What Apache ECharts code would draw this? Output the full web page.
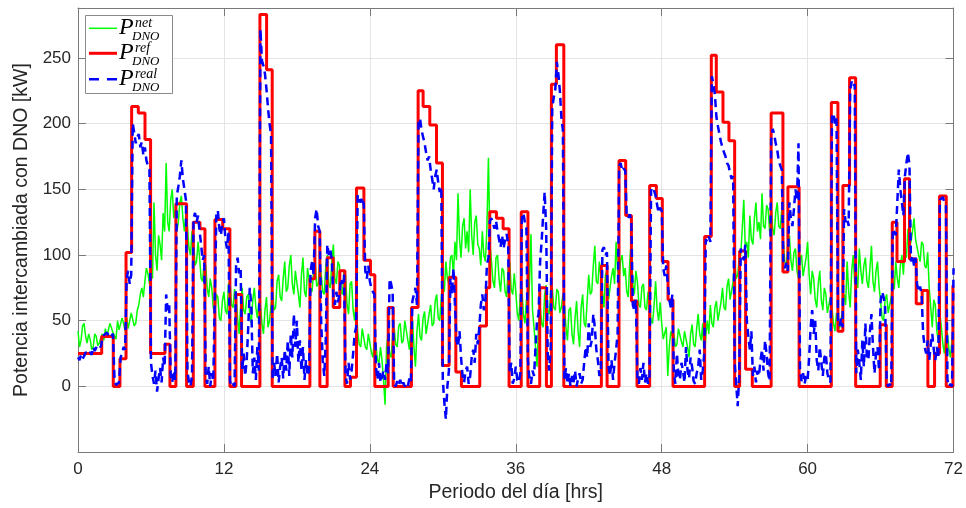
<!DOCTYPE html>
<html>
<head>
<meta charset="utf-8">
<script src="https://cdn.jsdelivr.net/npm/echarts@6/dist/echarts.min.js"></script>
<style>
html,body{margin:0;padding:0;background:#fff;}
#chart{width:966px;height:508px;}
</style>
</head>
<body>
<div id="chart"></div>
<script>
// ---- Data ----
var sampleStep = 0.125; // hours between samples of P_net and P_real
var xTicks = [0, 12, 24, 36, 48, 60, 72];
var yTicks = [0, 50, 100, 150, 200, 250];

// P_DNO^net (green), one value every 0.125 h from 0 to 72 h (two hours per line)
var pNet = [
42,30,35,46,48,38,33,40, 36,28,30,40,38,31,33,37,
40,35,44,38,37,48,47,41, 42,36,50,43,44,52,48,42,
52,44,45,56,55,46,48,58, 62,70,75,68,80,90,86,78,
95,82,140,100,88,115,108,96, 132,118,170,125,118,142,150,128,
135,118,125,140,145,128,118,132, 122,105,100,118,112,92,95,110,
98,82,80,95,92,75,68,82, 75,60,55,70,68,52,50,65,
72,58,55,78,80,62,60,74, 68,52,40,62,75,58,55,68,
70,55,48,66,75,60,52,64, 62,48,40,58,68,45,50,62,
72,58,60,80,85,68,65,82, 95,72,75,92,100,78,70,88,
88,70,60,85,98,72,68,90, 90,74,72,88,95,76,78,92,
85,72,70,92,100,78,75,95, 108,82,78,95,92,72,70,88,
85,62,55,78,80,58,50,66, 42,32,30,44,45,30,28,40,
40,26,22,35,32,20,18,30, 20,5,-14,30,40,25,22,38,
45,32,30,46,48,33,35,50, 50,35,28,48,52,30,15,42,
55,38,35,52,57,40,40,55, 62,46,48,65,70,52,50,68,
80,72,95,82,78,98,100,85, 110,96,147,112,98,122,128,105,
118,102,150,115,100,125,130,108, 105,92,118,100,95,120,174,110,
95,80,75,98,100,82,72,90, 88,72,68,90,95,74,70,86,
72,56,50,70,75,55,48,66, 60,78,116,58,45,30,15,48,
62,48,45,70,77,58,55,72, 75,60,58,74,72,56,60,70,
62,45,35,58,60,40,32,52, 65,42,30,60,70,48,45,66,
85,70,72,92,107,80,78,95, 95,72,60,85,88,66,65,84,
90,78,110,88,82,96,100,84, 90,72,68,95,112,78,70,88,
80,62,60,76,78,60,58,72, 65,50,48,62,80,58,50,64,
48,36,35,45,8,30,42,38, 40,30,32,44,45,34,30,42,
42,30,22,40,47,32,30,44, 55,40,35,48,17,38,50,40,
62,48,45,60,65,50,50,64, 75,60,58,76,82,66,65,80,
95,82,85,98,100,120,142,105, 110,98,130,112,108,128,140,118,
125,112,147,122,120,138,135,118, 138,120,115,132,140,122,120,135,
110,95,90,108,115,96,88,102, 105,88,82,98,100,84,85,98,
110,85,70,88,82,66,60,78, 88,66,58,75,70,56,55,68,
60,48,42,56,55,44,45,58, 70,62,95,72,60,88,100,78,
85,75,105,88,78,92,98,80, 75,90,107,80,72,88,95,76,
65,52,50,66,70,56,55,68, 80,74,95,82,75,92,100,85,
105,98,120,106,110,118,128,112, 112,100,95,110,108,92,90,102,
75,60,45,66,62,42,35,55, 45,32,25,42,40,28,22,36,
40
];

// P_DNO^real (blue dashed), one value every 0.125 h from 0 to 72 h (two hours per line)
var pReal = [
22,20,24,21,23,26,27,24, 26,24,30,27,28,32,33,30,
36,39,38,41,40,37,38,40, 6,1,0,3,22,25,30,28,
82,88,78,85,200,193,185,190, 192,182,186,176,182,172,168,165,
18,8,2,12,-4,6,14,3, 22,15,70,58,62,8,3,12,
5,145,152,160,172,158,150,142, 12,3,0,8,128,132,125,130,
118,108,96,100,8,2,15,0, 10,4,3,130,134,120,115,125,
128,112,105,118,4,0,2,0, 92,98,86,90,12,25,8,20,
45,75,62,10,22,5,30,12, 272,248,244,238,226,212,200,192,
5,18,8,25,3,15,22,6, 28,12,35,8,40,22,55,30,
50,18,35,12,30,5,20,8, 12,88,95,85,128,135,122,118,
48,20,8,35,108,100,104,96, 68,62,72,64,70,82,78,85,
8,2,18,5,12,25,40,45, 146,142,140,144,138,88,82,92,
80,75,72,70,15,5,18,3, 2,12,5,18,10,82,78,72,
2,0,4,1,5,0,3,0, 2,0,6,3,65,70,75,62,
200,204,195,190,185,178,172,175, 165,158,150,160,165,155,148,152,
5,-12,-25,0,12,82,70,90, 62,35,30,42,22,8,3,12,
15,2,8,22,28,18,40,32, 45,62,70,58,65,92,98,126,
128,124,120,126,118,112,106,115, 105,112,116,108,10,18,2,6,
15,5,3,10,128,132,125,120, 20,5,2,12,8,30,50,55,
95,110,130,148,120,25,12,30, 212,220,226,247,238,225,205,195,
5,14,2,10,0,8,3,12, 0,6,10,2,5,18,30,22,
48,30,35,55,45,28,20,8, 10,104,106,100,102,15,8,20,
5,18,28,40,168,170,164,166, 164,130,128,131,126,62,58,66,
8,2,14,5,18,3,10,2, 8,150,147,149,145,138,132,136,
134,90,84,92,78,66,60,70, 10,2,25,8,5,18,12,3,
30,12,6,22,15,4,2,10, 15,28,5,12,25,112,110,114,
110,236,230,222,205,198,192,186, 182,178,175,170,168,162,158,160,
18,2,-15,8,105,100,96,108, 50,38,28,42,8,15,3,12,
8,20,28,12,35,25,10,4, 188,196,192,185,180,172,168,165,
96,90,94,88,140,128,122,135, 150,142,185,12,4,10,2,8,
5,22,45,58,40,50,20,12, 30,18,8,22,25,10,5,3,
205,208,200,204,50,46,52,45, 135,125,128,122,226,232,228,230,
10,28,18,5,35,15,48,22, 20,42,55,30,10,25,30,12,
65,72,68,60,5,0,2,0, 120,118,115,140,165,150,140,130,
160,170,178,168,95,100,92,98, 78,72,76,70,40,30,25,35,
20,32,40,28,20,30,22,142, 142,144,140,138,5,0,2,0,
90
];

// P_DNO^ref (red), piecewise constant: [start hour, value]
var pRefSteps = [
[0,25],[1.95,38],[2.9,0],[3.45,21],[3.95,102],[4.41,213],[4.96,208],[5.51,188],
[5.97,25],[7.15,32],[7.56,0],[8.05,139],[8.93,0],[9.48,125],[10.03,120],[10.44,0],
[11.26,127],[11.9,120],[12.49,0],[12.99,70],[13.45,0],[14.96,283],[15.51,241],[15.97,0],
[19.07,82],[19.48,118],[19.89,0],[20.49,98],[20.99,60],[21.53,88],[21.95,0],[22.41,7],
[22.9,151],[23.51,96],[24.05,85],[24.41,0],[25.51,60],[25.92,0],[27.42,60],[27.97,225],
[28.38,213],[28.93,199],[29.48,170],[29.97,16],[30.52,83],[31.07,11],[31.53,0],[33.04,46],
[33.59,75],[33.86,133],[34.41,128],[34.96,120],[35.45,0],[36.45,133],[37.0,0],[37.97,75],
[38.52,0],[38.93,230],[39.34,260],[39.95,0],[43.04,92],[43.51,0],[44.49,172],[45.04,130],
[45.51,65],[45.97,0],[47.01,153],[47.56,143],[48.05,95],[48.52,66],[48.93,0],[51.53,114],
[52.08,252],[52.49,224],[53.04,201],[53.53,187],[54.0,0],[54.41,103],[54.9,13],[55.45,0],
[57.0,208],[57.97,87],[58.38,152],[59.3,0],[61.95,216],[62.49,42],[62.9,153],[63.45,235],
[63.95,0],[65.97,47],[66.47,0],[66.96,125],[67.35,95],[67.97,158],[68.38,97],[68.93,63],
[69.42,73],[69.89,0],[70.44,25],[70.85,145],[71.4,0],[71.95,77],[72,77]
];

// ---- Build series data ----
function sampled(values) {
  var out = [];
  for (var i = 0; i < values.length; i++) out.push([i * sampleStep, values[i]]);
  return out;
}

var FONT = "'Liberation Sans', Arial, Helvetica, sans-serif";
var SERIF = "'Liberation Serif', 'Times New Roman', serif";
var AXIS_COLOR = '#7a7a7a';
var TEXT_COLOR = '#262626';
var GRID_COLOR = '#e4e4e4';

function yLabel(v) { return yTicks.indexOf(v) >= 0 ? String(v) : ''; }
function xLabel(v) { return xTicks.indexOf(v) >= 0 ? String(v) : ''; }

// legend graphics
var legendRows = [
  {sup: 'net', color: '#00ff00', width: 1.5, dash: null, y: 28.3},
  {sup: 'ref', color: '#ff0000', width: 3, dash: null, y: 53.3},
  {sup: 'real', color: '#0000ff', width: 2.5, dash: [10, 8], y: 79.3}
];
var graphics = [{
  type: 'rect', shape: {x: 85.5, y: 15.5, width: 87, height: 78},
  style: {fill: '#ffffff', stroke: '#8a8a8a', lineWidth: 1}, z: 100
}];
legendRows.forEach(function (r) {
  graphics.push({
    type: 'line', shape: {x1: 89, y1: r.y, x2: 117, y2: r.y},
    style: {stroke: r.color, lineWidth: r.width, lineDash: r.dash}, z: 101
  });
  graphics.push({
    type: 'text', x: 119, y: r.y - 0.5,
    style: {text: 'P', font: 'italic 24px ' + SERIF, fill: '#000', verticalAlign: 'middle', align: 'left'}, z: 101
  });
  graphics.push({
    type: 'text', x: 135, y: r.y - 5,
    style: {text: r.sup, font: 'italic 14px ' + SERIF, fill: '#000', verticalAlign: 'middle', align: 'left'}, z: 101
  });
  graphics.push({
    type: 'text', x: 132, y: r.y + 8,
    style: {text: 'DNO', font: 'italic 13px ' + SERIF, fill: '#000', verticalAlign: 'middle', align: 'left'}, z: 101
  });
});

var chart = echarts.init(document.getElementById('chart'), null, {renderer: 'canvas'});
chart.setOption({
  animation: false,
  backgroundColor: '#ffffff',
  grid: {left: 78, right: 12, top: 8, bottom: 49, containLabel: false},
  xAxis: [{
    type: 'value', min: 0, max: 72, interval: 12,
    name: 'Periodo del día [hrs]', nameLocation: 'middle', nameGap: 22,
    nameTextStyle: {fontFamily: FONT, fontSize: 19.5, color: TEXT_COLOR},
    axisLine: {show: true, onZero: false, lineStyle: {color: AXIS_COLOR, width: 1}},
    axisTick: {show: true, inside: true, length: 8, lineStyle: {color: AXIS_COLOR}},
    axisLabel: {fontFamily: FONT, fontSize: 17, color: TEXT_COLOR, margin: 9, formatter: xLabel},
    splitLine: {show: true, lineStyle: {color: GRID_COLOR, width: 1}}
  }, {
    type: 'value', min: 0, max: 72, interval: 12, position: 'top',
    axisLine: {show: true, onZero: false, lineStyle: {color: AXIS_COLOR, width: 1}},
    axisTick: {show: true, inside: true, length: 8, lineStyle: {color: AXIS_COLOR}},
    axisLabel: {show: false}, splitLine: {show: false}
  }],
  yAxis: [{
    type: 'value', min: -50, max: 288, interval: 50,
    name: 'Potencia intercambiada con DNO [kW]', nameLocation: 'middle', nameGap: 46,
    nameTextStyle: {fontFamily: FONT, fontSize: 19.5, color: TEXT_COLOR},
    axisLine: {show: true, onZero: false, lineStyle: {color: AXIS_COLOR, width: 1}},
    axisTick: {show: true, inside: true, length: 8, lineStyle: {color: AXIS_COLOR}},
    axisLabel: {fontFamily: FONT, fontSize: 17, color: TEXT_COLOR, margin: 7, formatter: yLabel},
    splitLine: {show: true, lineStyle: {color: GRID_COLOR, width: 1}}
  }, {
    type: 'value', min: -50, max: 288, interval: 50, position: 'right',
    axisLine: {show: true, onZero: false, lineStyle: {color: AXIS_COLOR, width: 1}},
    axisTick: {show: true, inside: true, length: 8, lineStyle: {color: AXIS_COLOR}},
    axisLabel: {show: false}, splitLine: {show: false}
  }],
  series: [{
    name: 'P_DNO^net', type: 'line', data: sampled(pNet), showSymbol: false, symbol: 'none',
    lineStyle: {color: '#00ff00', width: 1.5}, itemStyle: {color: '#00ff00'}, z: 2
  }, {
    name: 'P_DNO^ref', type: 'line', data: pRefSteps, step: 'end', showSymbol: false, symbol: 'none',
    lineStyle: {color: '#ff0000', width: 3}, itemStyle: {color: '#ff0000'}, z: 3
  }, {
    name: 'P_DNO^real', type: 'line', data: sampled(pReal), showSymbol: false, symbol: 'none',
    lineStyle: {color: '#0000ff', width: 2.5, type: [8, 5]}, itemStyle: {color: '#0000ff'}, z: 4
  }],
  graphic: graphics
});
</script>
</body>
</html>
